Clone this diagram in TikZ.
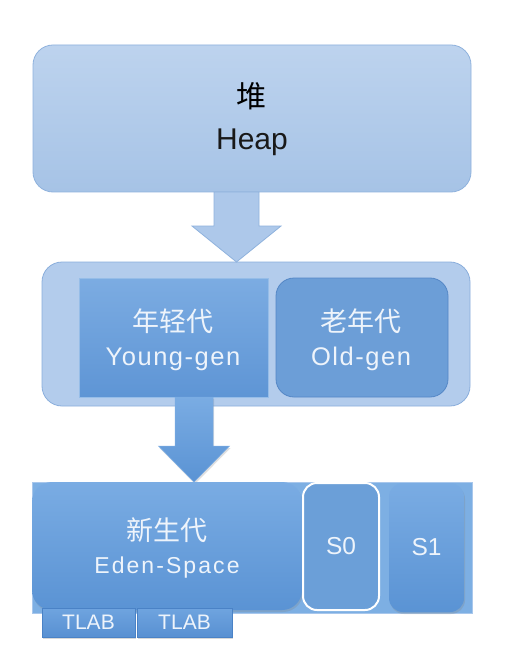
\documentclass[tikz,border=0pt]{standalone}
\usepackage{fontspec}
\setmainfont{Liberation Sans}
\newfontfamily\latsp[LetterSpace=6]{Liberation Sans}
\newfontfamily\latspw[LetterSpace=9]{Liberation Sans}
\newfontfamily\cjk{Noto Sans CJK SC}
\usetikzlibrary{shadows,calc}
\definecolor{heapTop}{HTML}{BDD3EE}
\definecolor{heapBot}{HTML}{A6C3E6}
\definecolor{heapLine}{HTML}{8FB2DD}
\definecolor{midFill}{HTML}{B3CCEC}
\definecolor{midLine}{HTML}{8AAEDC}
\definecolor{youngTop}{HTML}{7CACE2}
\definecolor{youngBot}{HTML}{5E95D5}
\definecolor{oldFill}{HTML}{6C9ED7}
\definecolor{oldLine}{HTML}{5487C6}
\definecolor{outerFill}{HTML}{7DAFE3}
\definecolor{outerLine}{HTML}{A8C7EC}
\definecolor{boxTop}{HTML}{7AACE3}
\definecolor{boxBot}{HTML}{5A93D4}
\definecolor{sFill}{HTML}{6B9FD8}
\definecolor{tlabTop}{HTML}{6FA4DF}
\definecolor{tlabBot}{HTML}{5890D2}
\definecolor{tlabLine}{HTML}{4A82C6}
\definecolor{arrOneFill}{HTML}{ADC8EA}
\definecolor{txtWhite}{HTML}{EEF4FB}
\begin{document}
\begin{tikzpicture}[x=1pt,y=-1pt,
  base/.style={inner sep=0pt, outer sep=0pt, align=center},
  lbl/.style={inner sep=0pt, outer sep=0pt, anchor=base, text=txtWhite},
  cjklbl/.style={lbl, font=\cjk\fontsize{27}{30}\selectfont},
  heapbox/.style={base, rounded corners=20pt, top color=heapTop, bottom color=heapBot, draw=heapLine, line width=0.8pt},
  midbox/.style={base, rounded corners=20pt, fill=midFill, draw=midLine, line width=0.8pt},
  youngbox/.style={base, top color=youngTop, bottom color=youngBot, draw=youngTop!80!white, line width=0.5pt},
  oldbox/.style={base, rounded corners=18pt, fill=oldFill, draw=oldLine, line width=0.8pt},
  outerbox/.style={base, fill=outerFill, draw=outerLine, line width=0.8pt},
  edenbox/.style={base, rounded corners=20pt, top color=boxTop, bottom color=boxBot,
     drop shadow={opacity=0.25, shadow xshift=1pt, shadow yshift=-2pt}},
  szerobox/.style={base, rounded corners=14pt, fill=sFill, draw=white, line width=2pt,
     font=\fontsize{24.5}{28}\selectfont, text=txtWhite},
  sonebox/.style={base, rounded corners=14pt, top color=boxTop, bottom color=boxBot,
     drop shadow={opacity=0.25, shadow xshift=1pt, shadow yshift=-2pt},
     font=\fontsize{24.5}{28}\selectfont, text=txtWhite},
  tlabbox/.style={base, top color=tlabTop, bottom color=tlabBot, draw=tlabLine, line width=0.6pt,
     drop shadow={opacity=0.3, shadow xshift=1pt, shadow yshift=-2pt},
     font=\fontsize{21}{24}\selectfont, text=txtWhite},
  arrowone/.style={fill=arrOneFill, draw=heapLine, line width=0.8pt},
  arrowtwo/.style={top color=boxTop, bottom color=boxBot, draw=boxTop, line width=0.5pt,
     drop shadow={opacity=0.25, shadow xshift=1pt, shadow yshift=-2pt}}
]
\useasboundingbox[fill=white] (0,0) rectangle (510,652);

% Heap
\node[heapbox, minimum width=438pt, minimum height=147pt] (heap) at (252,118.5) {};
\node[cjklbl, text=black, font=\cjk\fontsize{30}{32}\selectfont] (heapcn) at (251,108) {堆};
\node[lbl, text=black!90, font=\fontsize{30}{32}\selectfont] (heapen) at (252,150) {Heap};

% Middle container
\node[midbox, minimum width=428pt, minimum height=144pt] (mid) at (256,334) {};
\node[youngbox, minimum width=189pt, minimum height=119pt] (young) at (173.5,337.5) {};
\node[oldbox, minimum width=172pt, minimum height=119pt] (old) at (362,337.5) {};
\node[cjklbl] (youngcn) at (173,331) {年轻代};
\node[lbl, font=\latsp\fontsize{25.5}{28}\selectfont] (youngen) at (173,365) {Young-gen};
\node[cjklbl] (oldcn) at (361,331) {老年代};
\node[lbl, font=\latsp\fontsize{25.5}{28}\selectfont] (olden) at (361,365) {Old-gen};

% Bottom
\node[outerbox, minimum width=440pt, minimum height=131pt] (outer) at (252,547.5) {};

% Arrow 1 (heap -> mid)
\coordinate (aonetop) at ($(heap.south)+(-15.5,0)$);
\coordinate (aonetip) at (aonetop |- mid.north);
\draw[arrowone] ($(aonetop)+(-22.5,0)$) -- ($(aonetop)+(22.5,0)$)
  -- ($(aonetip)+(22.5,-36)$) -- ($(aonetip)+(44.5,-36)$) -- (aonetip)
  -- ($(aonetip)+(-44.5,-36)$) -- ($(aonetip)+(-22.5,-36)$) -- cycle;

% Arrow 2 (young -> outer)
\coordinate (atwotop) at ($(young.south)+(20.5,0)$);
\coordinate (atwotip) at (atwotop |- outer.north);
\path[arrowtwo] ($(atwotop)+(-19,0)$) -- ($(atwotop)+(19,0)$)
  -- ($(atwotip)+(19,-36)$) -- ($(atwotip)+(35.5,-36)$) -- (atwotip)
  -- ($(atwotip)+(-35.5,-36)$) -- ($(atwotip)+(-19,-36)$) -- cycle;

\node[edenbox, minimum width=270pt, minimum height=128pt] (eden) at (167,546) {};
\node[cjklbl] (edencn) at (167,540) {新生代};
\node[lbl, font=\latspw\fontsize{23}{26}\selectfont] (edenen) at (167,573) {Eden-Space};
\node[szerobox, minimum width=76pt, minimum height=127pt] (szero) at (341,546.5) {S0};
\node[sonebox, minimum width=75pt, minimum height=129pt] (sone) at (426.5,547.5) {S1};
\node[tlabbox, minimum width=93pt, minimum height=29pt] (tlabone) at (88.5,622.5) {TLAB};
\node[tlabbox, minimum width=95pt, minimum height=29pt] (tlabtwo) at (184.5,622.5) {TLAB};
\end{tikzpicture}
\end{document}
